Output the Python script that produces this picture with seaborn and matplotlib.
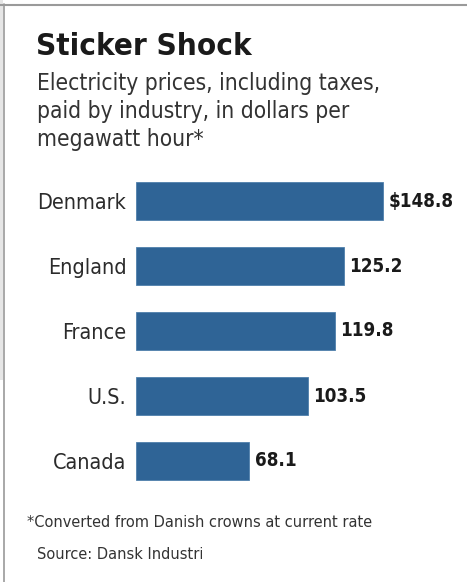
import matplotlib
matplotlib.use("Agg")
import matplotlib.pyplot as plt
from matplotlib import font_manager
from matplotlib.lines import Line2D
from matplotlib.patches import Rectangle
import seaborn as sns

countries = ["Denmark", "England", "France", "U.S.", "Canada"]
prices = [148.8, 125.2, 119.8, 103.5, 68.1]
price_labels = ["$148.8", "125.2", "119.8", "103.5", "68.1"]

title = "Sticker Shock"
subtitle = ["Electricity prices, including taxes,",
            "paid by industry, in dollars per",
            "megawatt hour*"]
footnote = "*Converted from Danish crowns at current rate"
source = "Source: Dansk Industri"

sns.set_theme(style="white")

# narrow face if we have one
names = {f.name for f in font_manager.fontManager.ttflist}
if "Liberation Sans Narrow" in names:
    fam = ["Liberation Sans Narrow", "DejaVu Sans"]
    stretch = "normal"
else:
    fam = ["DejaVu Sans"]
    stretch = "condensed"
plt.rcParams["font.family"] = fam
plt.rcParams["font.stretch"] = stretch

W, H = 467, 582
fig = plt.figure(figsize=(W / 100, H / 100), dpi=100)
fig.patch.set_facecolor("white")

def fx(px):
    return px / W

def fy(py):
    return 1 - py / H

# bar area: zero at x=136px, ~1.66 px per dollar
left, right = 136, 436
top, bottom = 168.5, 493.5
ax = fig.add_axes([fx(left), fy(bottom), fx(right - left), (bottom - top) / H])

sns.barplot(x=prices, y=countries, orient="h", color="#2f6496", saturation=1,
            width=0.59, edgecolor="#4f7fab", linewidth=0.6, ax=ax)
ax.set_xlim(0, (right - left) / 1.66)
ax.set_ylim(4.5, -0.5)
sns.despine(ax=ax, left=True, bottom=True)
ax.set_xticks([])
ax.set_xlabel("")
ax.set_ylabel("")
ax.tick_params(axis="y", length=0, pad=7, labelsize=15.5, labelcolor="#2b2b2b")

ax.bar_label(ax.containers[0], labels=price_labels, padding=4,
             fontsize=13.5, fontweight="bold", color="#1a1a1a")

fig.text(fx(36), fy(55), title, fontsize=22.5, fontweight="bold",
         color="#1a1a1a", va="baseline")
for i, line in enumerate(subtitle):
    fig.text(fx(37), fy(90 + 28 * i), line, fontsize=16.3,
             color="#333333", va="baseline")

fig.text(fx(27), fy(527), footnote, fontsize=11.7, color="#333333", va="baseline")
fig.text(fx(37), fy(559), source, fontsize=11.7, color="#333333", va="baseline")

# frame remnants from the screenshot
fig.patches.append(Rectangle((0, fy(380)), fx(3), 1 - fy(380), transform=fig.transFigure,
                             facecolor="#e6e6e6", edgecolor="none"))
fig.lines.append(Line2D([fx(3.5), fx(3.5)], [0, fy(4)], transform=fig.transFigure,
                        color="#9a9a9a", linewidth=1.2))
fig.lines.append(Line2D([0, 1], [fy(4.5), fy(4.5)], transform=fig.transFigure,
                        color="#9a9a9a", linewidth=1.5))

fig.savefig("out.png", dpi=100, facecolor="white")
